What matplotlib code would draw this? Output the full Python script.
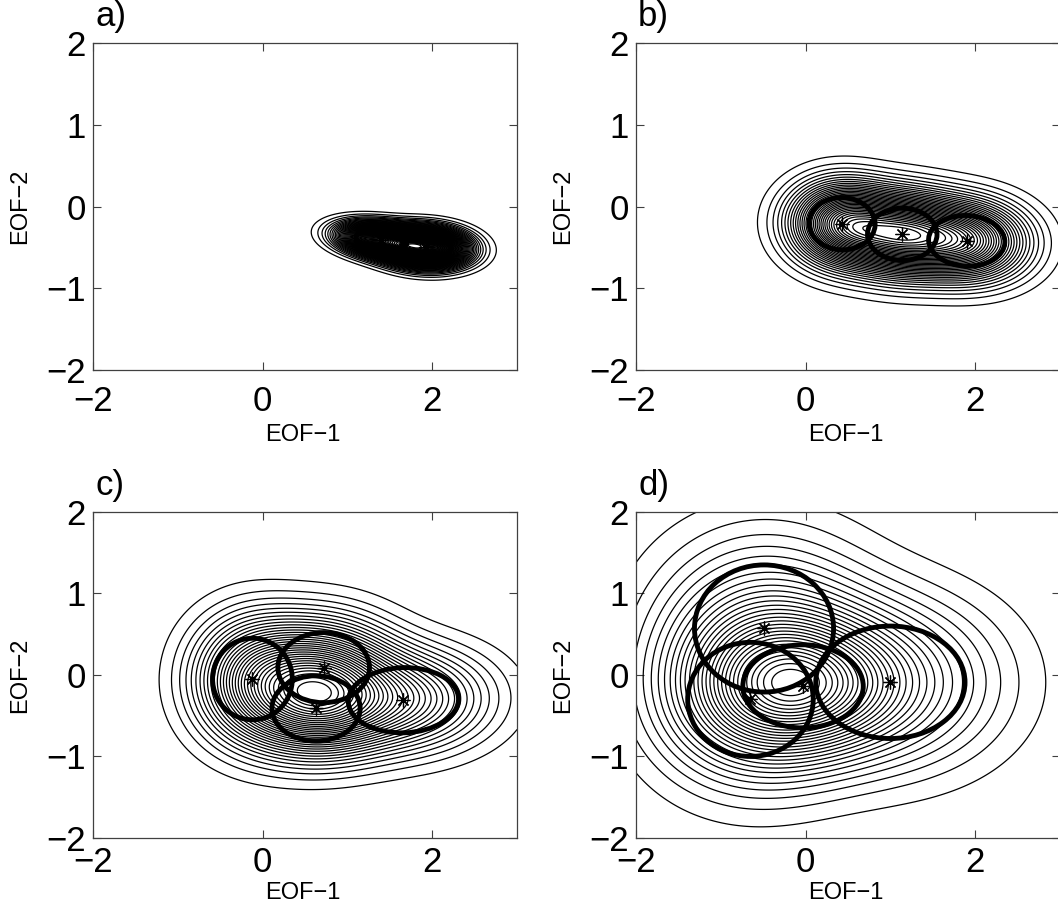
import numpy as np
import matplotlib
matplotlib.use("Agg")
import matplotlib.pyplot as plt
from matplotlib.patches import Ellipse

plt.rcParams['font.family'] = ['Liberation Sans', 'DejaVu Sans']

# mixture components per panel: means, 1-sigma half axes, tilt (deg), weights
labels = ['a)', 'b)', 'c)', 'd)']

means_a = [(1.40, -0.41), (1.93, -0.50)]
sx_a = [0.30, 0.29]
sy_a = [0.12, 0.14]
ang_a = [-8, -3]
w_a = [0.42, 0.58]

means_b = [(0.43, -0.21), (1.14, -0.34), (1.90, -0.42)]
sx_b = [0.39, 0.41, 0.45]
sy_b = [0.32, 0.32, 0.31]
ang_b = [-3, 0, -3]
w_b = [0.33, 0.34, 0.33]

means_c = [(-0.12, -0.05), (0.72, 0.09), (0.63, -0.41), (1.66, -0.31)]
sx_c = [0.47, 0.54, 0.52, 0.65]
sy_c = [0.50, 0.43, 0.40, 0.40]
ang_c = [0, 0, 0, 2]
w_c = [0.25, 0.25, 0.25, 0.25]

means_d = [(-0.49, 0.57), (-0.65, -0.30), (-0.03, -0.14), (1.00, -0.09)]
sx_d = [0.82, 0.74, 0.71, 0.88]
sy_d = [0.78, 0.70, 0.51, 0.69]
ang_d = [0, 0, 0, 0]
w_d = [0.25, 0.25, 0.25, 0.25]

n_levels = [70, 35, 33, 30]

panels = [(means_a, sx_a, sy_a, ang_a, w_a),
          (means_b, sx_b, sy_b, ang_b, w_b),
          (means_c, sx_c, sy_c, ang_c, w_c),
          (means_d, sx_d, sy_d, ang_d, w_d)]

positions = [[0.0879, 0.5956, 0.4008, 0.3574],
             [0.6011, 0.5956, 0.4008, 0.3574],
             [0.0879, 0.0842, 0.4008, 0.3563],
             [0.6011, 0.0842, 0.4008, 0.3563]]
xlabel_y = [-0.20, -0.20, -0.168, -0.168]
xtick_pad = [11, 11, 5.5, 5.5]

xg = np.linspace(-2, 3, 500)
yg = np.linspace(-2, 2, 400)
X, Y = np.meshgrid(xg, yg)


def gauss(X, Y, m, sx, sy, ang):
    t = np.deg2rad(ang)
    dx = X - m[0]
    dy = Y - m[1]
    u = dx * np.cos(t) + dy * np.sin(t)
    v = -dx * np.sin(t) + dy * np.cos(t)
    return np.exp(-0.5 * ((u / sx) ** 2 + (v / sy) ** 2)) / (2 * np.pi * sx * sy)


fig = plt.figure(figsize=(10.58, 9.15), dpi=100)

for i, (means, sx, sy, ang, w) in enumerate(panels):
    ax = fig.add_axes(positions[i])
    Z = np.zeros_like(X)
    for k in range(len(means)):
        Z += w[k] * gauss(X, Y, means[k], sx[k], sy[k], ang[k])
    lev = np.linspace(0, Z.max(), n_levels[i] + 2)[1:-1]
    ax.contour(X, Y, Z, levels=lev, colors='k', linewidths=0.9)

    for k in range(len(means)):
        e = Ellipse(means[k], 2 * sx[k], 2 * sy[k], angle=ang[k],
                    fill=False, edgecolor='k', linewidth=3.5)
        ax.add_patch(e)
        ax.plot(means[k][0], means[k][1], marker=(8, 2, 0), color='k',
                markersize=10, mew=0.9)

    ax.set_xlim(-2, 3)
    ax.set_ylim(-2, 2)
    ax.set_xticks([-2, 0, 2])
    ax.set_yticks([-2, -1, 0, 1, 2])
    ax.tick_params(direction='in', length=6, width=0.8, top=True, right=True,
                   labelsize=25, color='#404040')
    ax.tick_params(axis='x', pad=xtick_pad[i])
    ax.tick_params(axis='y', pad=5)
    for s in ax.spines.values():
        s.set_color('#404040')
        s.set_linewidth(0.9)
    ax.set_xlabel('EOF\u22121', fontsize=17)
    ax.set_ylabel('EOF\u22122', fontsize=17)
    ax.xaxis.label.set_va('center')
    ax.xaxis.set_label_coords(0.495, xlabel_y[i])
    ax.yaxis.label.set_va('center')
    ax.yaxis.set_label_coords(-0.172, 0.5)
    ax.text(0.005, 1.03, labels[i], transform=ax.transAxes, fontsize=25,
            ha='left', va='bottom')

fig.savefig('out.png', dpi=100)
